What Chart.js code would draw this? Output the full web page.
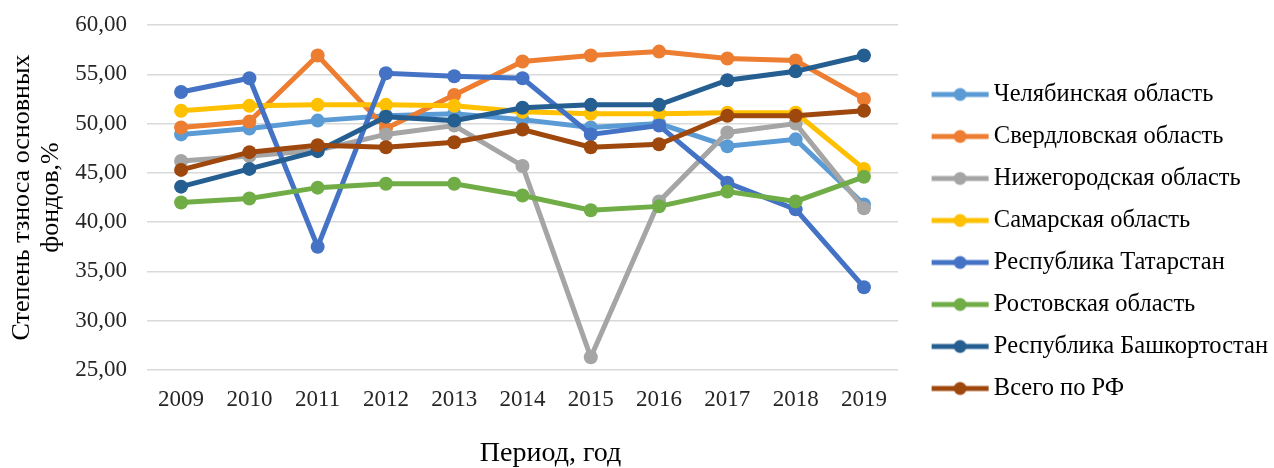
<!DOCTYPE html>
<html>
<head>
<meta charset="utf-8">
<script src="https://cdn.jsdelivr.net/npm/chart.js@4"></script>
<style>
  body { margin: 0; background: #fff; }
</style>
</head>
<body>
<canvas id="wearChart" width="1274" height="468"></canvas>
<script>
const years = ['2009', '2010', '2011', '2012', '2013', '2014', '2015', '2016', '2017', '2018', '2019'];

const chelyabinsk = [48.9, 49.5, 50.3, 50.8, 51.0, 50.4, 49.6, 50.0, 47.7, 48.4, 41.8];
const sverdlovsk = [49.6, 50.2, 56.9, 49.5, 52.9, 56.3, 56.9, 57.3, 56.6, 56.4, 52.5];
const nizhny = [46.2, 46.7, 47.3, 48.9, 49.8, 45.7, 26.3, 42.1, 49.1, 50.0, 41.4];
const samara = [51.3, 51.8, 51.9, 51.9, 51.8, 51.2, 51.0, 51.0, 51.1, 51.1, 45.4];
const tatarstan = [53.2, 54.6, 37.5, 55.1, 54.8, 54.6, 48.9, 49.8, 44.0, 41.3, 33.4];
const rostov = [42.0, 42.4, 43.5, 43.9, 43.9, 42.7, 41.2, 41.6, 43.1, 42.1, 44.6];
const bashkortostan = [43.6, 45.4, 47.2, 50.7, 50.3, 51.6, 51.9, 51.9, 54.4, 55.3, 56.9];
const russiaTotal = [45.3, 47.1, 47.8, 47.6, 48.1, 49.4, 47.6, 47.9, 50.8, 50.8, 51.3];

const yTicks = [25, 30, 35, 40, 45, 50, 55, 60];

const seriesNames = ['Челябинская область', 'Свердловская область', 'Нижегородская область', 'Самарская область',
    'Республика Татарстан', 'Ростовская область', 'Республика Башкортостан', 'Всего по РФ'];
const seriesData = [chelyabinsk, sverdlovsk, nizhny, samara, tatarstan, rostov, bashkortostan, russiaTotal];
const colors = ['#5B9BD5', '#ED7D31', '#A5A5A5', '#FFC000', '#4472C4', '#70AD47', '#255E91', '#9E480E'];

const serif = "'Liberation Serif', 'DejaVu Serif', serif";

// legend picture: box is BOX_W wide, image sticks out EXTRA px on each side,
// the line-with-dot sits near the right end
const BOX_W = 66;
const EXTRA = 8;
function legendIcon(color) {
    const c = document.createElement('canvas');
    c.width = BOX_W + EXTRA * 2;
    c.height = 16;
    const g = c.getContext('2d');
    const x1 = BOX_W + 15;
    const x0 = x1 - 57;
    g.strokeStyle = color;
    g.lineWidth = 5;
    g.beginPath();
    g.moveTo(x0, 8);
    g.lineTo(x1, 8);
    g.stroke();
    g.fillStyle = color;
    g.beginPath();
    g.arc((x0 + x1) / 2, 8, 6.5, 0, Math.PI * 2);
    g.fill();
    return c;
}

const datasets = seriesNames.map((name, i) => ({
    label: name,
    data: seriesData[i],
    borderColor: colors[i],
    backgroundColor: colors[i],
    borderWidth: 5,
    pointRadius: 7,
    pointHoverRadius: 7,
    pointBorderWidth: 0,
    pointStyle: 'circle',
    tension: 0,
    order: seriesNames.length - i
}));

const ctx = document.getElementById('wearChart').getContext('2d');
const wearChart = new Chart(ctx, {
    type: 'line',
    data: {
        labels: years,
        datasets: datasets
    },
    options: {
        responsive: false,
        animation: false,
        layout: {
            padding: { top: 15, left: 6, right: -4, bottom: 0 }
        },
        plugins: {
            tooltip: { enabled: false },
            legend: {
                position: 'right',
                maxWidth: 420,
                labels: {
                    font: { family: serif, size: 24.5 },
                    color: '#000',
                    usePointStyle: true,
                    pointStyleWidth: BOX_W,
                    padding: 17.5,
                    sort: (a, b) => a.datasetIndex - b.datasetIndex,
                    generateLabels: (chart) => chart.data.datasets.map((ds, i) => ({
                        text: ds.label,
                        datasetIndex: i,
                        fillStyle: ds.borderColor,
                        strokeStyle: ds.borderColor,
                        fontColor: '#000',
                        lineWidth: 0,
                        pointStyle: legendIcon(ds.borderColor),
                        hidden: false
                    }))
                }
            }
        },
        scales: {
            x: {
                offset: true,
                grid: { display: false },
                border: { display: false },
                ticks: {
                    font: { family: serif, size: 23, lineHeight: 1 },
                    color: '#262626',
                    padding: 10.5
                },
                title: {
                    display: true,
                    text: '        Период, год',
                    font: { family: serif, size: 28, lineHeight: 1 },
                    color: '#000',
                    padding: { top: 18, bottom: 0 }
                }
            },
            y: {
                min: 25,
                max: 60,
                afterBuildTicks: (axis) => {
                    axis.ticks = yTicks.map(v => ({ value: v }));
                },
                grid: {
                    color: '#d9d9d9',
                    lineWidth: 1.5,
                    drawTicks: false
                },
                border: { display: false },
                ticks: {
                    font: { family: serif, size: 23, lineHeight: 0.435 },
                    color: '#262626',
                    padding: 20,
                    callback: (v) => v.toFixed(2).replace('.', ',')
                },
                title: {
                    display: true,
                    text: ['Степень тзноса основных', 'фондов,%'],
                    font: { family: serif, size: 26, lineHeight: 1.1 },
                    color: '#000',
                    padding: { top: 2, bottom: -10 }
                }
            }
        }
    }
});
</script>
</body>
</html>
